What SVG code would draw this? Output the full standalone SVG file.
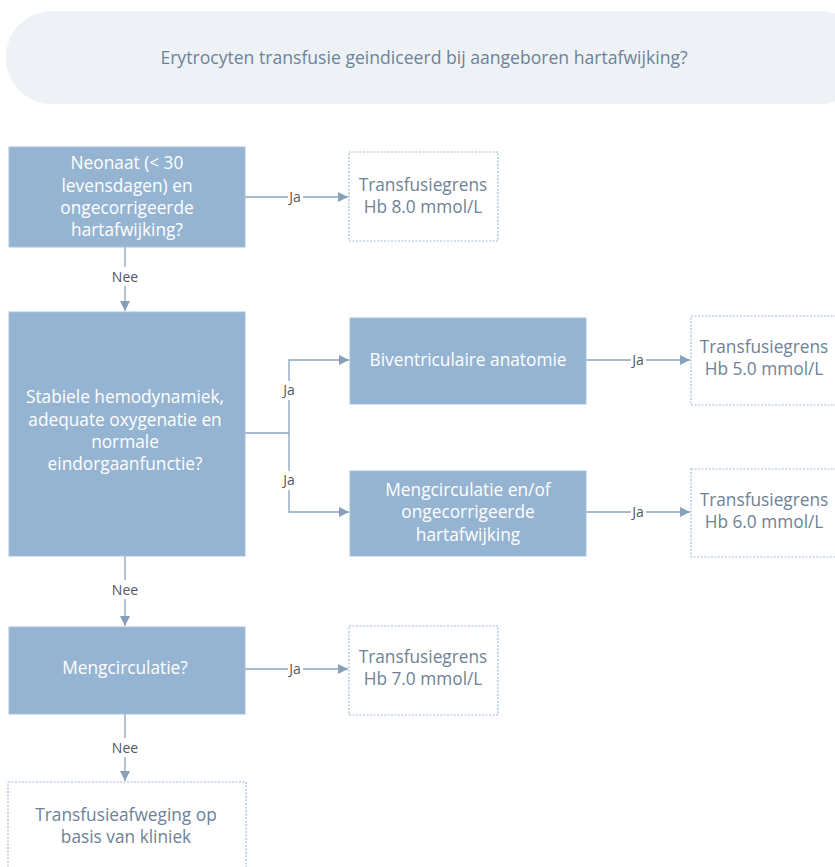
<svg xmlns="http://www.w3.org/2000/svg" width="835" height="867" viewBox="0 0 835 867">
<style>
.title{fill:#eef2f6;stroke:none}
.dec{fill:#95b4d2;stroke:#a7c1db;stroke-width:1}
.res{fill:#ffffff;stroke:#a3bbd3;stroke-width:1.2;stroke-dasharray:2 1.5}
.tw{font-family:"Open Sans","Noto Sans",sans-serif;font-size:17.3px;fill:#ffffff;text-anchor:middle}
.tr{font-family:"Open Sans","Noto Sans",sans-serif;font-size:17.3px;fill:#6d8297;text-anchor:middle}
.tt{font-family:"Open Sans","Noto Sans",sans-serif;font-size:17.6px;fill:#6d8297;text-anchor:middle}
.ln{fill:none;stroke:#8ba4bd;stroke-width:1.3}
.lb{font-family:"Open Sans","Noto Sans",sans-serif;font-size:14px;fill:#4f5760;text-anchor:middle}
.lbg{fill:#ffffff}
</style>
<defs>
<marker id="ah" viewBox="0 0 10 10" refX="10" refY="5" markerWidth="10" markerHeight="10" markerUnits="userSpaceOnUse" orient="auto">
<path d="M0,0 L10,5 L0,10 Z" fill="#86a0ba"/>
</marker>
</defs>
<rect width="835" height="867" fill="#ffffff"/>
<g id="title">
<rect class="title" x="6" y="11" width="860" height="93" rx="46" ry="46"/>
<text class="tt" x="424" y="64">Erytrocyten transfusie geindiceerd bij aangeboren hartafwijking?</text>
</g>
<g id="connectors">
<line class="ln" x1="245" y1="197" x2="348" y2="197" marker-end="url(#ah)"/>
<line class="ln" x1="125" y1="247" x2="125" y2="311" marker-end="url(#ah)"/>
<polyline class="ln" points="245,433 289,433"/>
<polyline class="ln" points="289,433 289,360 349,360" marker-end="url(#ah)"/>
<polyline class="ln" points="289,433 289,512 349,512" marker-end="url(#ah)"/>
<line class="ln" x1="586" y1="360" x2="690" y2="360" marker-end="url(#ah)"/>
<line class="ln" x1="586" y1="512" x2="690" y2="512" marker-end="url(#ah)"/>
<line class="ln" x1="125" y1="556" x2="125" y2="626" marker-end="url(#ah)"/>
<line class="ln" x1="245" y1="669" x2="348" y2="669" marker-end="url(#ah)"/>
<line class="ln" x1="125" y1="714" x2="125" y2="781" marker-end="url(#ah)"/>
<rect class="lbg" x="288" y="189" width="15" height="16"/>
<text class="lb" x="295" y="202">Ja</text>
<rect class="lbg" x="110" y="267" width="30" height="19"/>
<text class="lb" x="125" y="282">Nee</text>
<rect class="lbg" x="281" y="381" width="16" height="19"/>
<text class="lb" x="289" y="395">Ja</text>
<rect class="lbg" x="281" y="471" width="16" height="19"/>
<text class="lb" x="289" y="485">Ja</text>
<rect class="lbg" x="631" y="352" width="15" height="16"/>
<text class="lb" x="638" y="365">Ja</text>
<rect class="lbg" x="631" y="504" width="15" height="16"/>
<text class="lb" x="638" y="517">Ja</text>
<rect class="lbg" x="110" y="580" width="30" height="19"/>
<text class="lb" x="125" y="595">Nee</text>
<rect class="lbg" x="288" y="661" width="15" height="16"/>
<text class="lb" x="295" y="674">Ja</text>
<rect class="lbg" x="110" y="738" width="30" height="19"/>
<text class="lb" x="125" y="753">Nee</text>
</g>
<g id="n1">
<rect class="dec" x="9" y="147" width="236" height="100"/>
<text class="tw" x="127" y="169">Neonaat (&lt; 30</text>
<text class="tw" x="127" y="192">levensdagen) en</text>
<text class="tw" x="127" y="214">ongecorrigeerde</text>
<text class="tw" x="127" y="236">hartafwijking?</text>
</g>
<g id="r1">
<rect class="res" x="349" y="152" width="149" height="89"/>
<text class="tr" x="423" y="191">Transfusiegrens</text>
<text class="tr" x="423" y="213">Hb 8.0 mmol/L</text>
</g>
<g id="n2">
<rect class="dec" x="9" y="312" width="236" height="244"/>
<text class="tw" x="125" y="403">Stabiele hemodynamiek,</text>
<text class="tw" x="125" y="426">adequate oxygenatie en</text>
<text class="tw" x="125" y="448">normale</text>
<text class="tw" x="125" y="470">eindorgaanfunctie?</text>
</g>
<g id="n3">
<rect class="dec" x="350" y="318" width="236" height="86"/>
<text class="tw" x="468" y="366">Biventriculaire anatomie</text>
</g>
<g id="n4">
<rect class="dec" x="350" y="471" width="236" height="85"/>
<text class="tw" x="468" y="496">Mengcirculatie en/of</text>
<text class="tw" x="468" y="518">ongecorrigeerde</text>
<text class="tw" x="468" y="541">hartafwijking</text>
</g>
<g id="r2">
<rect class="res" x="691" y="316" width="149" height="89"/>
<text class="tr" x="764" y="353">Transfusiegrens</text>
<text class="tr" x="764" y="375">Hb 5.0 mmol/L</text>
</g>
<g id="r3">
<rect class="res" x="691" y="469" width="149" height="88"/>
<text class="tr" x="764" y="506">Transfusiegrens</text>
<text class="tr" x="764" y="528">Hb 6.0 mmol/L</text>
</g>
<g id="n5">
<rect class="dec" x="9" y="627" width="236" height="87"/>
<text class="tw" x="125" y="674">Mengcirculatie?</text>
</g>
<g id="r4">
<rect class="res" x="349" y="626" width="149" height="89"/>
<text class="tr" x="423" y="663">Transfusiegrens</text>
<text class="tr" x="423" y="685">Hb 7.0 mmol/L</text>
</g>
<g id="r5">
<rect class="res" x="8" y="782" width="238" height="100"/>
<text class="tr" x="126" y="821">Transfusieafweging op</text>
<text class="tr" x="126" y="843">basis van kliniek</text>
</g>
</svg>
